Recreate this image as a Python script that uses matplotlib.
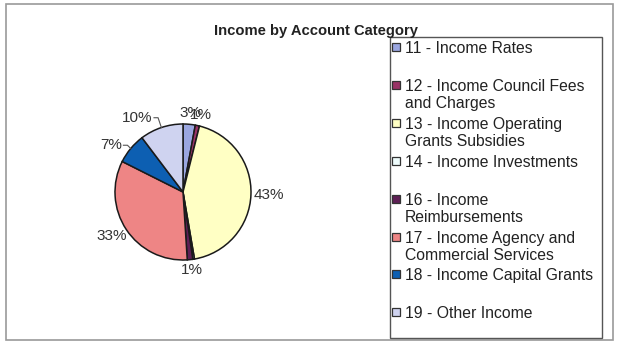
import numpy as np
import matplotlib
matplotlib.use('Agg')
import matplotlib.pyplot as plt
from matplotlib.patches import Rectangle

plt.rcParams['font.family'] = ['Liberation Sans', 'DejaVu Sans']

# Income share per account category (percent)
categories = ['11 - Income Rates',
              '12 - Income Council Fees\nand Charges',
              '13 - Income Operating\nGrants Subsidies',
              '14 - Income Investments',
              '16 - Income\nReimbursements',
              '17 - Income Agency and\nCommercial Services',
              '18 - Income Capital Grants',
              '19 - Other Income']
shares = [2.9, 1.0, 43.4, 0.4, 1.3, 33.4, 7.3, 10.3]
colors = ['#9aa6e0', '#993366', '#ffffc4', '#eefcfc', '#5e1f55', '#ee8585', '#0d5fb2', '#cfd3f0']

W, H = 620, 343
fig = plt.figure(figsize=(W / 100, H / 100), dpi=100)

# outer chart frame
fig.patches.append(Rectangle((6 / W, 3 / H), 607 / W, 336 / H, transform=fig.transFigure,
                             fill=False, edgecolor='#9a9a9a', linewidth=1.2))

fig.text(316 / W, 1 - 31 / H, 'Income by Account Category', ha='center', va='center',
         fontsize=10.6, fontweight='bold', color='#222222')

# pie axes: centre at (183, 192) px, radius 68 px
cx, cy, r = 183, 192, 68
lim = 1.5
side = 2 * lim * r
ax = fig.add_axes([(cx - side / 2) / W, (H - cy - side / 2) / H, side / W, side / H])

wedges, _ = ax.pie(shares, colors=colors, startangle=90, counterclock=False,
                   wedgeprops=dict(edgecolor='#1a1a1a', linewidth=1.1))
ax.set_xlim(-lim, lim)
ax.set_ylim(-lim, lim)
ax.set_aspect('equal')
ax.axis('off')

# labels pulled off their wedge: (angle shift in degrees, radius of the label's right edge)
nudge = {6: (2.3, 1.13), 7: (3.7, 1.18)}
gap, hw, hh = 0.05, 0.21, 0.11   # label gap and half text extents, in radius units
total = sum(shares)
for i, (w, v) in enumerate(zip(wedges, shares)):
    pct = round(100 * v / total)
    if pct == 0:
        continue
    mid = np.deg2rad((w.theta1 + w.theta2) / 2)
    dx, dy = np.cos(mid), np.sin(mid)
    if i in nudge:
        d, rr = nudge[i]
        ang = mid + np.deg2rad(d)
        tx, ty = rr * np.cos(ang), rr * np.sin(ang)
        ax.text(tx, ty, f'{pct}%', ha='right', va='center', fontsize=11, color='#333333')
        # short hooked leader line to the wedge edge
        ax.plot([tx + 0.02, tx + 0.08, dx], [ty, ty, dy], color='#555555', lw=0.8)
    else:
        tx = dx * (1 + gap) + dx * hw
        ty = dy * (1 + gap) + dy * hh
        ax.text(tx, ty, f'{pct}%', ha='center', va='center', fontsize=11, color='#333333')

# legend box drawn at the right
fig.patches.append(Rectangle((390 / W, 5 / H), 212 / W, 301 / H, transform=fig.transFigure,
                             fill=False, edgecolor='#555555', linewidth=1.0))
for i, (lab, c) in enumerate(zip(categories, colors)):
    y = 47 + i * 37.9
    fig.patches.append(Rectangle((392 / W, 1 - (y + 4) / H), 8 / W, 8 / H,
                                 transform=fig.transFigure, facecolor=c,
                                 edgecolor='#333333', linewidth=0.9))
    fig.text(405 / W, 1 - (y - 6) / H, lab, ha='left', va='top', fontsize=11.3,
             color='#222222', linespacing=1.2)

fig.savefig('out.png', dpi=100)
